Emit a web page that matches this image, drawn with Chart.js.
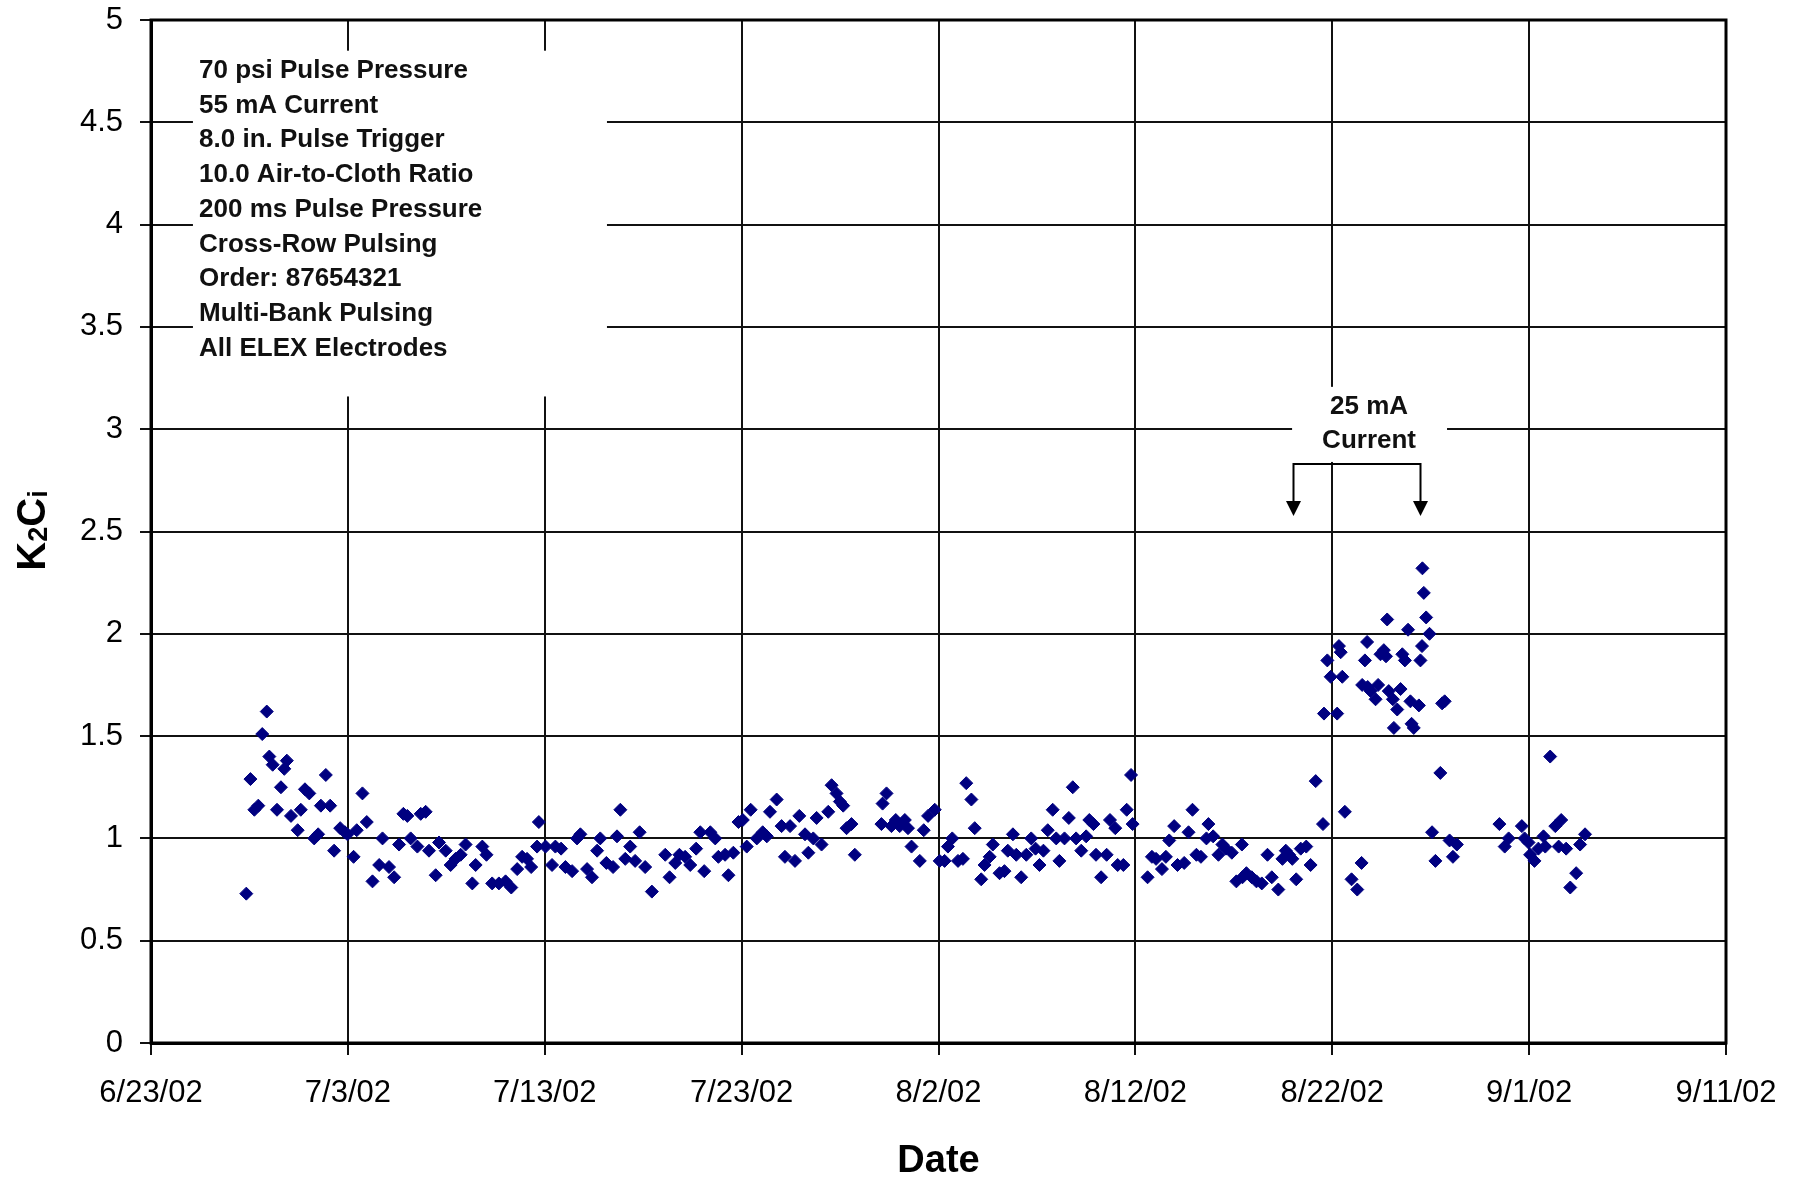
<!DOCTYPE html>
<html>
<head>
<meta charset="utf-8">
<title>K2Ci vs Date</title>
<script src="https://cdn.jsdelivr.net/npm/chart.js@4.4.1/dist/chart.umd.min.js"></script>
<style>
  html, body { margin: 0; padding: 0; background: #ffffff; }
  canvas { display: block; }
</style>
</head>
<body>
<canvas id="chart" width="1801" height="1181"></canvas>
<script>
// Sample times, in days after 6/23/02
const sampleDay = [
  4.84, 5.05, 5.25, 5.45, 5.65, 5.88, 6.01, 6.18, 6.40, 6.60, 6.77, 6.90, 7.11, 7.45, 7.61, 7.82,
  8.04, 8.29, 8.49, 8.63, 8.88, 9.10, 9.30, 9.61, 9.85, 9.98, 10.29, 10.45, 10.74, 10.96, 11.25,
  11.59, 11.76, 12.09, 12.35, 12.60, 12.82, 13.02, 13.19, 13.53, 13.70, 13.95, 14.12, 14.46, 14.63,
  14.97, 15.22, 15.47, 15.73, 15.98, 16.32, 16.49, 16.83, 17.04, 17.33, 17.67, 18.01, 18.30, 18.60,
  18.85, 19.10, 19.31, 19.61, 19.70,
  20.04, 20.37, 20.54, 20.83, 21.05, 21.39, 21.64, 21.81, 22.15, 22.40, 22.66, 22.82, 23.13, 23.47,
  23.67, 23.84, 24.09, 24.34, 24.59, 24.82, 25.10, 25.44, 26.12, 26.34, 26.63, 26.84, 27.13, 27.39,
  27.69, 27.90, 28.10, 28.41, 28.66, 28.82, 29.16, 29.33, 29.58, 29.84, 30.06, 30.26, 30.46, 30.77,
  31.07, 31.28, 31.44, 31.78, 32.03, 32.20, 32.46, 32.71, 32.93, 33.22, 33.39, 33.64, 33.81, 34.06,
  34.40, 34.57, 34.82,
  34.99, 35.16, 35.33, 35.58, 35.75, 37.10, 37.16, 37.36, 37.61, 37.83, 38.03, 38.29, 38.45, 38.63,
  39.05, 39.25, 39.47, 39.81, 40.06, 40.31, 40.48, 40.70, 40.99, 41.24, 41.41, 41.67, 41.84, 42.17,
  42.34, 42.60, 42.76, 43.10, 43.35, 43.52, 43.78, 43.95, 44.20, 44.46, 44.71, 44.93, 45.13, 45.33,
  45.55, 45.80, 45.98, 46.14, 46.40, 46.62, 46.82, 46.99, 47.25, 47.50, 47.66, 47.87, 48.00, 48.26,
  48.54, 48.71, 48.98, 49.10, 49.39, 49.56, 49.78, 49.86,
  50.62, 50.84, 51.05, 51.35, 51.55, 51.72, 51.97, 52.14, 52.48, 52.70, 52.90, 53.10, 53.33, 53.61,
  53.71, 53.95, 54.22, 54.42, 54.60, 54.90, 55.13, 55.41, 55.44, 55.64, 55.91, 56.15, 56.42, 56.71,
  56.93, 57.26, 57.47, 57.64, 57.81, 57.97, 58.17, 58.40, 58.68, 58.90, 59.16, 59.53,
  59.58, 59.75, 59.92, 60.25, 60.34, 60.43, 60.51, 60.64, 60.98, 61.27, 61.49, 61.52, 61.66, 61.77,
  61.80, 61.95, 62.20, 62.33, 62.45, 62.62, 62.73, 62.79, 62.87, 63.08, 63.13, 63.30, 63.47, 63.56,
  63.69, 63.85, 63.97, 64.03, 64.14, 64.40, 64.48, 64.56, 64.58, 64.65, 64.77, 64.94, 65.07, 65.24,
  65.49, 65.58, 65.71, 65.96, 66.13, 66.33,
  68.49, 68.76, 68.96, 69.63, 69.77, 69.97, 70.05, 70.27, 70.47, 70.73, 70.82, 71.07, 71.33, 71.50,
  71.63, 71.88, 72.09, 72.39, 72.59, 72.84
];

// K2Ci readings, one per sample time
const k2ci = [
  0.73, 1.29, 1.14, 1.16, 1.51, 1.62, 1.40, 1.36, 1.14, 1.25, 1.34, 1.38, 1.11, 1.04, 1.14, 1.24,
  1.22, 1.00, 1.02, 1.16, 1.31, 1.16, 0.94, 1.05, 1.03, 1.02, 0.91, 1.04, 1.22, 1.08, 0.79,
  0.87, 1.00, 0.86, 0.81, 0.97, 1.12, 1.11, 1.00, 0.96, 1.12, 1.13, 0.94, 0.82, 0.98,
  0.94, 0.87, 0.90, 0.92, 0.97, 0.78, 0.87, 0.96, 0.92, 0.78, 0.78, 0.79, 0.76, 0.85,
  0.91, 0.90, 0.86, 0.96, 1.08,
  0.96, 0.87, 0.96, 0.95, 0.86, 0.84, 1.00, 1.02, 0.85, 0.81, 0.94, 1.00, 0.88, 0.86,
  1.01, 1.14, 0.90, 0.96, 0.89, 1.03, 0.86, 0.74, 0.92, 0.81, 0.88, 0.92, 0.91, 0.87,
  0.95, 1.03, 0.84, 1.03, 1.00, 0.91, 0.92, 0.82, 0.93, 1.08, 1.09, 0.96, 1.14, 1.00,
  1.03, 1.01, 1.13, 1.19, 1.06, 0.91, 1.06, 0.89, 1.11, 1.02, 0.93, 1.00, 1.10, 0.97,
  1.13, 1.26, 1.22,
  1.18, 1.16, 1.05, 1.07, 0.92, 1.07, 1.17, 1.22, 1.06, 1.09, 1.06, 1.09, 1.05, 0.96,
  0.89, 1.04, 1.11, 1.14, 0.89, 0.89, 0.96, 1.00, 0.89, 0.90, 1.27, 1.19, 1.05, 0.80,
  0.87, 0.91, 0.97, 0.83, 0.84, 0.94, 1.02, 0.92, 0.81, 0.92, 1.00, 0.95, 0.87, 0.94,
  1.04, 1.14, 1.00, 0.89, 1.00, 1.10, 1.25, 1.00, 0.94, 1.01, 1.09, 1.07, 0.92, 0.81,
  0.92, 1.09, 1.05, 0.87, 0.87, 1.14, 1.31, 1.07,
  0.81, 0.91, 0.90, 0.85, 0.91, 0.99, 1.06, 0.87, 0.88, 1.03, 1.14, 0.92, 0.91, 1.00,
  1.07, 1.01, 0.92, 0.97, 0.95, 0.93, 0.79, 0.97, 0.81, 0.83, 0.81, 0.79, 0.78, 0.92,
  0.81, 0.75, 0.90, 0.94, 0.92, 0.90, 0.80, 0.95, 0.96, 0.87, 1.28, 1.07,
  1.61, 1.87, 1.79, 1.61, 1.94, 1.91, 1.79, 1.13, 0.80, 0.75, 0.88, 1.75, 1.87, 1.96,
  1.74, 1.72, 1.68, 1.75, 1.90, 1.92, 1.89, 2.07, 1.72, 1.68, 1.54, 1.63, 1.73, 1.90,
  1.87, 2.02, 1.67, 1.56, 1.54, 1.65, 1.87, 1.94, 2.32, 2.20, 2.08, 2.00, 1.03, 0.89,
  1.32, 1.66, 1.67, 0.99, 0.91, 0.97,
  1.07, 0.96, 1.00, 1.06, 1.00, 0.98, 0.92, 0.89, 0.95, 1.01, 0.96, 1.40, 1.06, 0.96,
  1.09, 0.95, 0.76, 0.83, 0.97, 1.02
];

// Date axis: one tick every 10 days
const dateTickLabels = ['6/23/02', '7/3/02', '7/13/02', '7/23/02', '8/2/02', '8/12/02', '8/22/02', '9/1/02', '9/11/02'];

// Test conditions listed in the upper-left box
const conditionLines = [
  '70 psi Pulse Pressure',
  '55 mA Current',
  '8.0 in. Pulse Trigger',
  '10.0 Air-to-Cloth Ratio',
  '200 ms Pulse Pressure',
  'Cross-Row Pulsing',
  'Order: 87654321',
  'Multi-Bank Pulsing',
  'All ELEX Electrodes'
];

// Reduced-current period note and its bracket ends (days, K2Ci units)
const currentNoteLines = ['25 mA', 'Current'];
const currentBracketDays = [58.0, 64.45];

const FONT = "'Liberation Sans', Arial, Helvetica, sans-serif";

const points = sampleDay.map((d, i) => ({ x: d, y: k2ci[i] }));

const annotations = {
  id: 'annotations',
  beforeDatasetsDraw(chart) {
    const { ctx, chartArea, scales: { x, y } } = chart;
    ctx.save();

    // Conditions box (white, no border) over the grid
    ctx.fillStyle = '#ffffff';
    const bx0 = x.getPixelForValue(2.13), bx1 = x.getPixelForValue(23.16);
    const by0 = y.getPixelForValue(4.85), by1 = y.getPixelForValue(3.16);
    ctx.fillRect(bx0, by0, bx1 - bx0, by1 - by0);

    ctx.fillStyle = '#111111';
    ctx.font = `bold 26px ${FONT}`;
    ctx.textAlign = 'left';
    ctx.textBaseline = 'middle';
    const tx = x.getPixelForValue(2.44);
    const ty = y.getPixelForValue(4.752);
    conditionLines.forEach((line, i) => ctx.fillText(line, tx, ty + i * 34.75));

    // "25 mA Current" note
    const nx0 = x.getPixelForValue(57.96), nx1 = x.getPixelForValue(65.83);
    const ny0 = y.getPixelForValue(3.207), ny1 = y.getPixelForValue(2.84);
    ctx.fillStyle = '#ffffff';
    ctx.fillRect(nx0, ny0, nx1 - nx0, ny1 - ny0);
    ctx.fillStyle = '#111111';
    ctx.textAlign = 'center';
    const ncx = x.getPixelForValue(61.87);
    ctx.fillText(currentNoteLines[0], ncx, y.getPixelForValue(3.108));
    ctx.fillText(currentNoteLines[1], ncx, y.getPixelForValue(2.942));

    // Bracket with two down arrows
    const ax0 = Math.round(x.getPixelForValue(currentBracketDays[0])) + 0.5;
    const ax1 = Math.round(x.getPixelForValue(currentBracketDays[1])) + 0.5;
    const top = Math.round(y.getPixelForValue(2.83));
    const tip = y.getPixelForValue(2.576);
    const head = 15;
    ctx.strokeStyle = '#000000';
    ctx.lineWidth = 2;
    ctx.beginPath();
    ctx.moveTo(ax0, tip - head + 1);
    ctx.lineTo(ax0, top);
    ctx.lineTo(ax1, top);
    ctx.lineTo(ax1, tip - head + 1);
    ctx.stroke();
    ctx.fillStyle = '#000000';
    [ax0, ax1].forEach(ax => {
      ctx.beginPath();
      ctx.moveTo(ax - head / 2, tip - head);
      ctx.lineTo(ax + head / 2, tip - head);
      ctx.lineTo(ax, tip);
      ctx.closePath();
      ctx.fill();
    });

    // Plot-area frame
    ctx.strokeStyle = '#000000';
    ctx.lineWidth = 3;
    ctx.strokeRect(chartArea.left, chartArea.top, chartArea.right - chartArea.left, chartArea.bottom - chartArea.top);

    ctx.restore();
  },
  afterDraw(chart) {
    // Y-axis title K2Ci with subscripts, rotated
    const { ctx } = chart;
    const big = `bold 40px ${FONT}`;
    const small = `bold 27px ${FONT}`;
    const parts = [
      { t: 'K', f: big, dy: 0 },
      { t: '2', f: small, dy: 2 },
      { t: 'C', f: big, dy: 0 },
      { t: 'i', f: small, dy: 2 }
    ];
    ctx.save();
    let total = 0;
    parts.forEach(p => { ctx.font = p.f; p.w = ctx.measureText(p.t).width; total += p.w; });
    const cy = (chart.chartArea.top + chart.chartArea.bottom) / 2 - 1;
    ctx.translate(45, cy);
    ctx.rotate(-Math.PI / 2);
    ctx.fillStyle = '#000000';
    ctx.textAlign = 'left';
    ctx.textBaseline = 'alphabetic';
    let px = -total / 2;
    parts.forEach(p => { ctx.font = p.f; ctx.fillText(p.t, px, p.dy); px += p.w; });
    ctx.restore();
  }
};

new Chart(document.getElementById('chart').getContext('2d'), {
  type: 'scatter',
  data: {
    datasets: [{
      label: 'K2Ci',
      data: points,
      pointStyle: 'rectRot',
      pointRadius: 6.5,
      pointHoverRadius: 6.5,
      backgroundColor: '#000080',
      borderColor: '#000080',
      borderWidth: 1
    }]
  },
  options: {
    responsive: false,
    animation: false,
    devicePixelRatio: 1,
    layout: { padding: { top: 20, right: 75, bottom: 0, left: 0 } },
    plugins: {
      legend: { display: false },
      tooltip: { enabled: false }
    },
    scales: {
      x: {
        type: 'linear',
        min: 0,
        max: 80,
        afterFit(scale) {
          scale.height = 138;
          scale.paddingLeft = 0;
          scale.paddingRight = 0;
        },
        afterBuildTicks(scale) {
          scale.ticks = dateTickLabels.map((_, i) => ({ value: i * 10 }));
        },
        ticks: {
          autoSkip: false,
          maxRotation: 0,
          padding: 20,
          color: '#000000',
          font: { family: FONT, size: 31 },
          callback: (value, index) => dateTickLabels[index]
        },
        grid: { color: '#111111', lineWidth: 2, tickLength: 12 },
        border: { color: '#000000', width: 3 },
        title: {
          display: true,
          text: 'Date',
          color: '#000000',
          padding: 0,
          font: { family: FONT, size: 38, weight: 'bold', lineHeight: 1 }
        }
      },
      y: {
        min: 0,
        max: 5,
        afterFit(scale) {
          scale.width = 151;
          scale.paddingTop = 0;
          scale.paddingBottom = 0;
        },
        ticks: {
          stepSize: 0.5,
          padding: 17,
          color: '#000000',
          font: { family: FONT, size: 31 },
          callback: (value) => String(value)
        },
        grid: { color: '#111111', lineWidth: 2, tickLength: 11 },
        border: { color: '#000000', width: 3 }
      }
    }
  },
  plugins: [annotations]
});
</script>
</body>
</html>
